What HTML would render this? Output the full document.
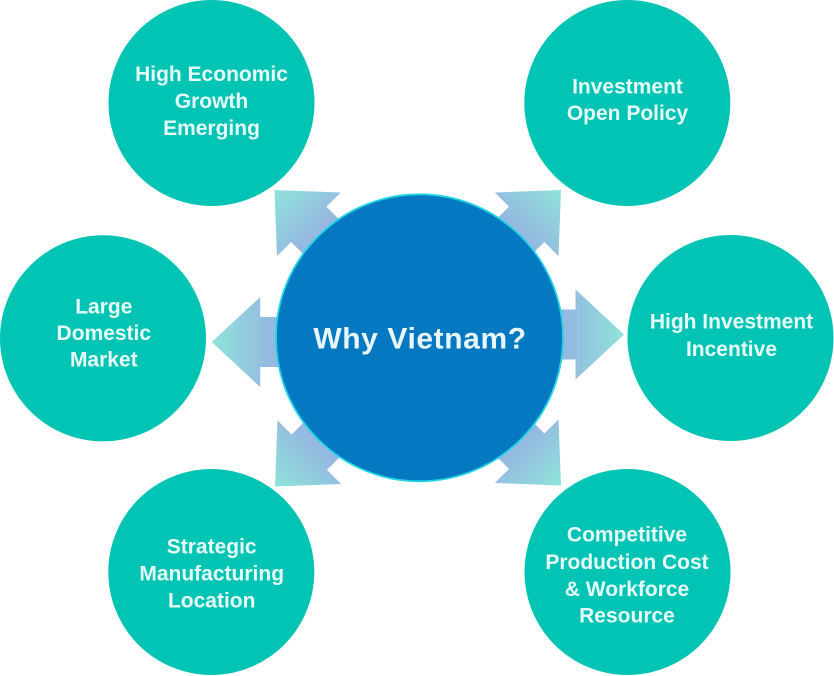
<!DOCTYPE html>
<html>
<head>
<meta charset="utf-8">
<style>
  html, body { margin: 0; padding: 0; background: #ffffff; }
  body { width: 834px; height: 676px; overflow: hidden; }
  svg { display: block; }
  .t { font-family: "Liberation Sans", "DejaVu Sans", sans-serif; font-weight: bold; font-size: 21px; fill: #e6faf7; text-anchor: middle; }
  .c { font-family: "Liberation Sans", "DejaVu Sans", sans-serif; font-weight: bold; font-size: 30px; fill: #e8f6fb; text-anchor: middle; letter-spacing: 0.6px; }
</style>
</head>
<body>
<svg width="834" height="676" viewBox="0 0 834 676" xmlns="http://www.w3.org/2000/svg">
  <defs>
    <linearGradient id="ag" gradientUnits="userSpaceOnUse" x1="0" y1="0" x2="58" y2="0">
      <stop offset="0" stop-color="#8ee3da"/>
      <stop offset="1" stop-color="#95b9e1"/>
    </linearGradient>
    <path id="arr" d="M0,0 L48.5,-45 L48.5,-25 L115,-25 L115,25 L48.5,25 L48.5,45 Z"/>
  </defs>

  <!-- arrows -->
  <use href="#arr" fill="url(#ag)" transform="translate(211.7,342)"/>
  <use href="#arr" fill="url(#ag)" transform="translate(624,334.5) rotate(180)"/>
  <use href="#arr" fill="url(#ag)" transform="translate(274.5,190) rotate(45)"/>
  <use href="#arr" fill="url(#ag)" transform="translate(561,190) rotate(135)"/>
  <use href="#arr" fill="url(#ag)" transform="translate(561,485.5) rotate(225)"/>
  <use href="#arr" fill="url(#ag)" transform="translate(275,486.5) rotate(-45)"/>

  <!-- center circle -->
  <circle cx="419.5" cy="337.8" r="143.5" fill="#0479c2" stroke="#22d4e4" stroke-width="1.8"/>
  <text class="c" x="420" y="348.3">Why Vietnam?</text>

  <!-- outer circles -->
  <circle cx="211.5" cy="103" r="103" fill="#02c4b5"/>
  <circle cx="627.3" cy="103" r="103" fill="#02c4b5"/>
  <circle cx="103" cy="338.3" r="103" fill="#02c4b5"/>
  <circle cx="730.5" cy="338" r="103" fill="#02c4b5"/>
  <circle cx="211.3" cy="572" r="103" fill="#02c4b5"/>
  <circle cx="627.5" cy="572" r="103" fill="#02c4b5"/>

  <!-- labels -->
  <text class="t" x="211.5" y="81">High Economic</text>
  <text class="t" x="211.5" y="108">Growth</text>
  <text class="t" x="211.5" y="135">Emerging</text>

  <text class="t" x="627.5" y="93.3">Investment</text>
  <text class="t" x="627.5" y="120">Open Policy</text>

  <text class="t" x="103.8" y="313.3">Large</text>
  <text class="t" x="103.8" y="340">Domestic</text>
  <text class="t" x="103.8" y="366.7">Market</text>

  <text class="t" x="731.5" y="328.3">High Investment</text>
  <text class="t" x="731.5" y="356">Incentive</text>

  <text class="t" x="211.7" y="553.3">Strategic</text>
  <text class="t" x="211.7" y="580.7">Manufacturing</text>
  <text class="t" x="211.7" y="607.3">Location</text>

  <text class="t" x="627" y="541.7">Competitive</text>
  <text class="t" x="627" y="569">Production Cost</text>
  <text class="t" x="627" y="596">&amp; Workforce</text>
  <text class="t" x="627" y="622.7">Resource</text>
</svg>
</body>
</html>
